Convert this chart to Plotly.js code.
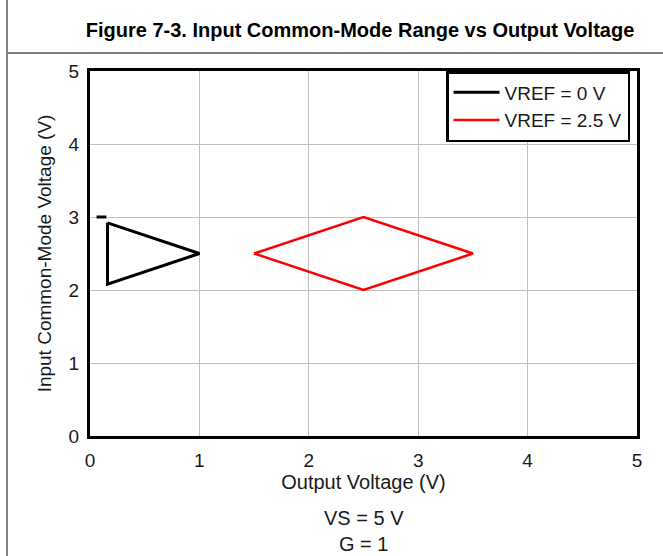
<!DOCTYPE html>
<html>
<head>
<meta charset="utf-8">
<script src="https://cdn.plot.ly/plotly-3.0.1.min.js"></script>
<style>html,body{margin:0;padding:0;background:#fff;}#chart{width:663px;height:556px;}</style>
</head>
<body>
<div id="chart"></div>
<script>
// Data
const vref0_x = [0.06, 0.15, null, 0.16, 1.0, 0.16, 0.16];
const vref0_y = [3.0, 3.0, null, 2.92, 2.5, 2.08, 2.92];
const vref25_x = [1.5, 2.5, 3.5, 2.5, 1.5];
const vref25_y = [2.5, 3.0, 2.5, 2.0, 2.5];
const seriesNames = ["VREF = 0 V", "VREF = 2.5 V"];
const tickVals = [0, 1, 2, 3, 4, 5];
const tickText = ["0", "1", "2", "3", "4", "5"];

const FONT = "Liberation Sans, Arial, sans-serif";
const W = 663, H = 556, L = 90, R = 26, T = 71, B = 120;
const pw = W - L - R, ph = H - T - B;
const px = p => (p - L) / pw;
const py = p => (H - B - p) / ph;

const traces = [
  {x: vref0_x, y: vref0_y, name: seriesNames[0], mode: "lines", connectgaps: false,
   line: {color: "#000000", width: 3}},
  {x: vref25_x, y: vref25_y, name: seriesNames[1], mode: "lines",
   line: {color: "#ff0000", width: 2.5}}
];

const axisCommon = {
  range: [0, 5], tickvals: tickVals, ticktext: tickText,
  showgrid: true, gridcolor: "#c0c0c0", gridwidth: 1,
  showline: true, linecolor: "#000000", linewidth: 3, mirror: true,
  ticks: "", zeroline: false, fixedrange: true,
  tickfont: {family: FONT, size: 19, color: "#1a1a1a"}
};

const layout = {
  width: W, height: H,
  margin: {l: L, r: R, t: T, b: B, pad: 0},
  paper_bgcolor: "#ffffff", plot_bgcolor: "#ffffff",
  font: {family: FONT, color: "#1a1a1a"},
  title: {text: "<b>Figure 7-3. Input Common-Mode Range vs Output Voltage</b>",
          font: {family: FONT, size: 20, color: "#000000"},
          xref: "container", yref: "container", x: 360 / W, y: 1 - 30 / H,
          xanchor: "center", yanchor: "middle"},
  xaxis: Object.assign({}, axisCommon, {
    title: {text: "Output Voltage (V)", font: {family: FONT, size: 20, color: "#1a1a1a"}, standoff: 0},
    ticklabelstandoff: 5
  }),
  yaxis: Object.assign({}, axisCommon, {
    title: {text: "Input Common-Mode Voltage (V)", font: {family: FONT, size: 19, color: "#1a1a1a"}, standoff: 12},
    ticklabelstandoff: 4
  }),
  showlegend: true,
  legend: {x: px(446), y: py(71), xanchor: "left", yanchor: "top",
           bgcolor: "#ffffff", bordercolor: "#000000", borderwidth: 2.5,
           font: {family: FONT, size: 19, color: "#1a1a1a"},
           itemwidth: 46, entrywidth: 139, entrywidthmode: "pixels", tracegroupgap: 0},
  shapes: [
    {type: "line", xref: "paper", yref: "paper", x0: px(7), x1: px(W + 5), y0: py(53), y1: py(53),
     line: {color: "#808080", width: 2}},
    {type: "line", xref: "paper", yref: "paper", x0: px(7), x1: px(7), y0: py(-5), y1: py(H + 5),
     line: {color: "#808080", width: 2}}
  ],
  annotations: [
    {text: "VS = 5 V", xref: "paper", yref: "paper", x: 0.5, y: py(518), xanchor: "center", yanchor: "middle",
     showarrow: false, font: {family: FONT, size: 20, color: "#1a1a1a"}},
    {text: "G = 1", xref: "paper", yref: "paper", x: 0.5, y: py(544), xanchor: "center", yanchor: "middle",
     showarrow: false, font: {family: FONT, size: 20, color: "#1a1a1a"}}
  ]
};

Plotly.newPlot("chart", traces, layout, {displayModeBar: false, staticPlot: true});
</script>
</body>
</html>
